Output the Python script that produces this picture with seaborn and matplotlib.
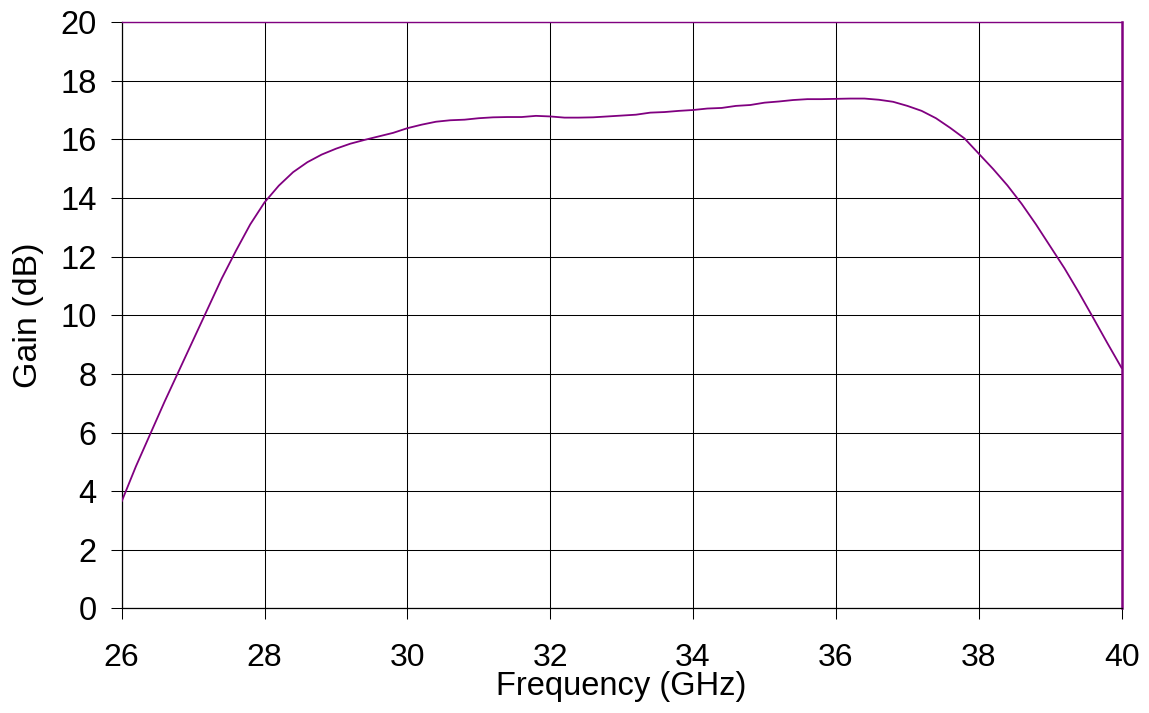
import matplotlib
matplotlib.use("Agg")
import matplotlib.pyplot as plt
import seaborn as sns
import pandas as pd

freq_ghz = [26.0, 26.2, 26.4, 26.6, 26.8, 27.0, 27.2, 27.4, 27.6, 27.8,
            28.0, 28.2, 28.4, 28.6, 28.8, 29.0, 29.2, 29.4, 29.6, 29.8,
            30.0, 30.2, 30.4, 30.6, 30.8, 31.0, 31.2, 31.4, 31.6, 31.8,
            32.0, 32.2, 32.4, 32.6, 32.8, 33.0, 33.2, 33.4, 33.6, 33.8,
            34.0, 34.2, 34.4, 34.6, 34.8, 35.0, 35.2, 35.4, 35.6, 35.8,
            36.0, 36.2, 36.4, 36.6, 36.8, 37.0, 37.2, 37.4, 37.6, 37.8,
            38.0, 38.2, 38.4, 38.6, 38.8, 39.0, 39.2, 39.4, 39.6, 39.8,
            40.0]
gain_db = [3.65, 4.85, 5.95, 7.05, 8.1, 9.15, 10.2, 11.25, 12.2, 13.1,
           13.85, 14.42, 14.88, 15.22, 15.48, 15.68, 15.85, 15.98, 16.1, 16.22,
           16.38, 16.5, 16.6, 16.65, 16.67, 16.72, 16.75, 16.76, 16.76, 16.8,
           16.78, 16.74, 16.74, 16.75, 16.78, 16.81, 16.84, 16.91, 16.93, 16.97,
           17.0, 17.05, 17.07, 17.14, 17.17, 17.25, 17.29, 17.34, 17.37, 17.37,
           17.38, 17.39, 17.39, 17.35, 17.28, 17.14, 16.97, 16.72, 16.39, 16.03,
           15.51, 14.99, 14.43, 13.8, 13.1, 12.35, 11.6, 10.78, 9.92, 9.05,
           8.2]
x_ticks = [26, 28, 30, 32, 34, 36, 38, 40]
y_ticks = [0, 2, 4, 6, 8, 10, 12, 14, 16, 18, 20]

sns.set_style("white")
plt.rcParams['font.family'] = ['Liberation Sans', 'DejaVu Sans']
plt.rcParams['text.color'] = 'black'
plt.rcParams['axes.labelcolor'] = 'black'
plt.rcParams['xtick.color'] = 'black'
plt.rcParams['ytick.color'] = 'black'

df = pd.DataFrame({"Frequency (GHz)": freq_ghz, "Gain (dB)": gain_db})

fig = plt.figure(figsize=(11.49, 7.13), dpi=100)
ax = fig.add_axes([0.1059, 0.1466, 0.8703, 0.8225])

sns.lineplot(data=df, x="Frequency (GHz)", y="Gain (dB)", ax=ax,
             color="#800080", linewidth=1.3, zorder=3)

ax.set_xlim(26, 40)
ax.set_ylim(0, 20)
ax.set_xticks(x_ticks)
ax.set_yticks(y_ticks)
ax.set_xticklabels([str(t) for t in x_ticks])
ax.set_yticklabels([str(t) for t in y_ticks])

ax.grid(True, color="black", linewidth=0.75)
ax.set_axisbelow(True)

ax.tick_params(axis="y", direction="out", length=8, width=0.75, colors="black",
               pad=10, labelsize=23.5, left=True)
ax.tick_params(axis="x", direction="out", length=8, width=0.75, colors="black",
               pad=17, labelsize=23, bottom=True)

for side in ["left", "bottom"]:
    ax.spines[side].set_color("black")
    ax.spines[side].set_linewidth(0.9)
ax.spines["top"].set_color("#800080")
ax.spines["top"].set_linewidth(1.0)
ax.spines["right"].set_color("#800080")
ax.spines["right"].set_linewidth(1.8)

ax.set_xlabel("Frequency (GHz)", fontsize=23.5, color="black")
ax.set_ylabel("Gain (dB)", fontsize=24.5, color="black")
ax.xaxis.set_label_coords(0.5, -0.107)
ax.yaxis.set_label_coords(-0.078, 0.5)

fig.savefig("out.png", dpi=100)
